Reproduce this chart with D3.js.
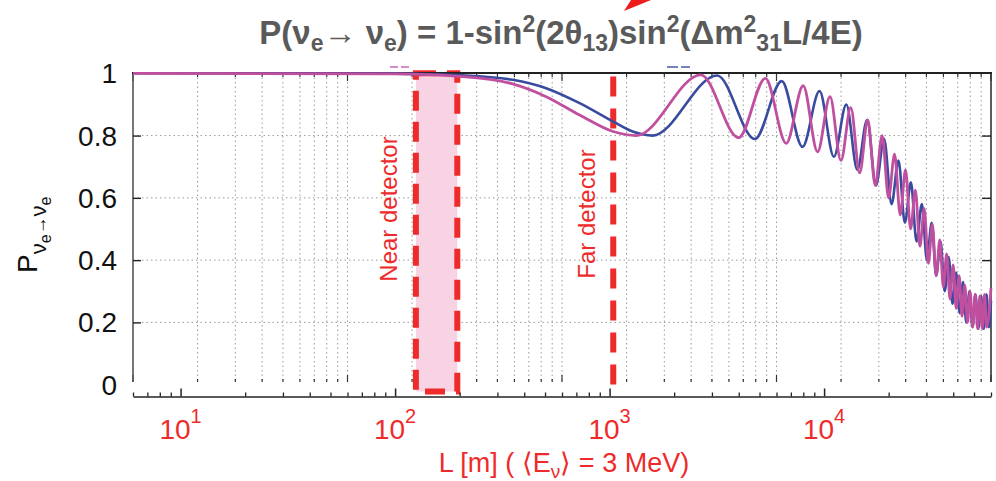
<!DOCTYPE html>
<html>
<head>
<meta charset="utf-8">
<script src="https://cdnjs.cloudflare.com/ajax/libs/d3/7.8.5/d3.min.js"></script>
<style>
body{margin:0;background:#fff}
svg{display:block}
text{font-family:"Liberation Sans",Arial,Helvetica,sans-serif}
</style>
</head>
<body>
<svg id="chart"></svg>
<script>
// values (L in metres, survival probability)
let blueL=[6,100,150,200,353,506,725,1039,1290,1587,3174,4761,6348,7935,9522,11109,12696,14283,15870,17457,19044,20631,22218,23805,25392,26979,28566,30153,31740,33327,34914,36501,38088,39675,41262,42849,44436,46023,47610,49197,50784,52371,53958,55545,57132,58719,60000]
let blueP=[1,0.999,0.997,0.994,0.979,0.952,0.904,0.845,0.812,0.800,0.993,0.789,0.975,0.764,0.943,0.732,0.90,0.69,0.85,0.64,0.79,0.58,0.72,0.52,0.65,0.46,0.58,0.40,0.52,0.35,0.46,0.30,0.41,0.26,0.36,0.23,0.33,0.20,0.30,0.185,0.29,0.18,0.285,0.18,0.29,0.185,0.27]
let magL=[6,100,200,353,506,725,1039,1332,2664,3996,5328,6660,7992,9324,10656,11988,13320,14652,15984,17316,18648,19980,21312,22644,23976,25308,26640,27972,29304,30636,31968,33300,34632,35964,37296,38628,39960,41292,42624,43956,45288,46620,47952,49284,50616,51948,53280,54612,55944,57276,60000]
let magP=[1,0.998,0.99,0.966,0.925,0.866,0.813,0.800,0.995,0.793,0.984,0.775,0.96,0.748,0.925,0.72,0.89,0.68,0.85,0.64,0.80,0.60,0.74,0.545,0.69,0.50,0.625,0.445,0.565,0.39,0.515,0.35,0.465,0.315,0.42,0.275,0.385,0.245,0.35,0.22,0.32,0.20,0.30,0.185,0.29,0.18,0.285,0.18,0.29,0.185,0.31]

let nearRange=[125,195]
let farL=1040

let xTicks=[10,100,1000,10000]
let xTickExp=['1','2','3','4']
let yTicks=[0,0.2,0.4,0.6,0.8,1]
let yTickLabels=['0','0.2','0.4','0.6','0.8','1']

let width=996
let height=481
let svg=d3.select('#chart').attr('width',width).attr('height',height)
let red='#ee2b2a'
let xScale,yScale

let generateScales=()=>{
  xScale=d3.scaleLog().domain([6,60000]).range([133,991])
  yScale=d3.scaleLinear().domain([0,1]).range([384.7,73.3])
}

let drawGrid=()=>{
  // the plot's own grid sits on L/6
  let gridVals=d3.scaleLog().domain([1,1e4]).ticks().map(v=>v*6)
  let g=svg.append('g')
  g.selectAll('line.vg').data(gridVals.slice(1,-1)).enter().append('line')
    .attr('x1',d=>xScale(d)).attr('x2',d=>xScale(d))
    .attr('y1',73).attr('y2',382)
    .attr('stroke','#9a9a9a').attr('stroke-width',1).attr('stroke-dasharray','1.5,3')
  g.selectAll('line.hg').data([0.2,0.4,0.6,0.8]).enter().append('line')
    .attr('x1',133).attr('x2',991)
    .attr('y1',d=>yScale(d)).attr('y2',d=>yScale(d))
    .attr('stroke','#9a9a9a').attr('stroke-width',1).attr('stroke-dasharray','1.5,3')
  // little ticks on the top frame and at the bottom of the grid
  let isMajor=v=>Math.abs(Math.log10(v/6)%1)<1e-6
  g.selectAll('line.tt').data(gridVals).enter().append('line')
    .attr('x1',d=>xScale(d)).attr('x2',d=>xScale(d))
    .attr('y1',73).attr('y2',d=>isMajor(d)?81:77)
    .attr('stroke','#333').attr('stroke-width',1.2)
  g.selectAll('line.bt').data(gridVals).enter().append('line')
    .attr('x1',d=>xScale(d)).attr('x2',d=>xScale(d))
    .attr('y1',382).attr('y2',d=>isMajor(d)?375:379)
    .attr('stroke','#333').attr('stroke-width',1.2)
}

let drawFrame=()=>{
  svg.append('line').attr('x1',133).attr('x2',133).attr('y1',73).attr('y2',382)
    .attr('stroke','#555').attr('stroke-width',1.6)
  svg.append('line').attr('x1',991).attr('x2',991).attr('y1',73).attr('y2',382)
    .attr('stroke','#333').attr('stroke-width',1.6)
  svg.append('line').attr('x1',132).attr('x2',992).attr('y1',73).attr('y2',73)
    .attr('stroke','#222').attr('stroke-width',1.8)
  let yAxisL=d3.axisRight(yScale).tickValues([0.2,0.4,0.6,0.8]).tickSize(8).tickFormat('').tickSizeOuter(0)
  let gl=svg.append('g').attr('transform','translate(133,0)').call(yAxisL)
  gl.select('.domain').remove()
  gl.selectAll('line').attr('stroke','#222').attr('stroke-width',1.4)
  let yAxisR=d3.axisLeft(yScale).tickValues([0.2,0.4,0.6,0.8]).tickSize(9).tickFormat('').tickSizeOuter(0)
  let gr=svg.append('g').attr('transform','translate(991,0)').call(yAxisR)
  gr.select('.domain').remove()
  gr.selectAll('line').attr('stroke','#222').attr('stroke-width',1.4)

  svg.append('g').selectAll('text').data(yTicks).enter().append('text')
    .attr('x',117).attr('y',d=>yScale(d)+10)
    .attr('text-anchor','end').attr('font-size',28).attr('fill','#111')
    .text((d,i)=>yTickLabels[i])
}

let drawXAxis=()=>{
  let minor=xScale.ticks().filter(v=>xTicks.indexOf(v)<0)
  let axMinor=d3.axisTop(xScale).tickValues(minor).tickSize(4).tickFormat('').tickSizeOuter(0)
  let g1=svg.append('g').attr('transform','translate(0,396.5)').call(axMinor)
  g1.select('.domain').attr('stroke','#222').attr('stroke-width',1.6)
  g1.selectAll('line').attr('stroke','#222').attr('stroke-width',1.3)
  let axMajor=d3.axisTop(xScale).tickValues(xTicks).tickSize(8).tickFormat('').tickSizeOuter(0)
  let g2=svg.append('g').attr('transform','translate(0,396.5)').call(axMajor)
  g2.select('.domain').remove()
  g2.selectAll('line').attr('stroke','#222').attr('stroke-width',1.5)

  let lab=svg.append('g').selectAll('text').data(xTicks).enter().append('text')
    .attr('x',d=>xScale(d)).attr('y',438.5)
    .attr('text-anchor','middle').attr('font-size',28).attr('fill',red)
  lab.append('tspan').text('10')
  lab.append('tspan').attr('dy',-16).attr('font-size',20).text((d,i)=>xTickExp[i])

  let t=svg.append('text').attr('x',564).attr('y',472).attr('text-anchor','middle')
    .attr('font-size',27).attr('fill',red)
  t.append('tspan').text('L [m] ( \u27e8E')
  t.append('tspan').attr('dy',6).attr('font-size',19).text('\u03bd')
  t.append('tspan').attr('dy',-6).text('\u27e9 = 3 MeV)')
}

let drawDetectors=()=>{
  let x0=xScale(nearRange[0]),x1=xScale(nearRange[1])
  svg.append('rect').attr('x',x0).attr('y',yScale(1)).attr('width',x1-x0)
    .attr('height',yScale(-0.022)-yScale(1))
    .attr('fill','#f8d3e3').attr('stroke',red).attr('stroke-width',6)
    .attr('stroke-dasharray','20,11')
  svg.append('line').attr('x1',xScale(farL)).attr('x2',xScale(farL))
    .attr('y1',yScale(0.99)).attr('y2',yScale(-0.018))
    .attr('stroke',red).attr('stroke-width',6).attr('stroke-dasharray','20,12')
}

let drawCurves=()=>{
  let line=d3.line().x(d=>xScale(d[0])).y(d=>yScale(d[1])).curve(d3.curveMonotoneX)
  svg.append('path').datum(blueL.map((v,i)=>[v,blueP[i]]))
    .attr('d',line).attr('fill','none').attr('stroke','#3a4b9f').attr('stroke-width',2.6)
  svg.append('path').datum(magL.map((v,i)=>[v,magP[i]]))
    .attr('d',line).attr('fill','none').attr('stroke','#c0509f').attr('stroke-width',2.8)
}

let drawLabels=()=>{
  svg.append('text').attr('transform','translate(397,209) rotate(-90)')
    .attr('text-anchor','middle').attr('font-size',24).attr('fill',red).text('Near detector')
  svg.append('text').attr('transform','translate(595,214) rotate(-90)')
    .attr('text-anchor','middle').attr('font-size',24).attr('fill',red).text('Far detector')

  // y axis title
  let yl=svg.append('text').attr('transform','translate(37,273) rotate(-90)')
    .attr('font-size',28).attr('fill','#111')
  yl.append('tspan').text('P')
  yl.append('tspan').attr('dy',9).attr('font-size',22).text('\u03bd')
  yl.append('tspan').attr('dy',5).attr('font-size',16).text('e')
  yl.append('tspan').attr('dy',-5).attr('font-size',18).text('\u2192')
  yl.append('tspan').attr('font-size',22).text('\u03bd')
  yl.append('tspan').attr('dy',5).attr('font-size',16).text('e')

  // title
  let t=svg.append('text').attr('x',561).attr('y',44).attr('text-anchor','middle')
    .attr('font-size',33).attr('font-weight','bold').attr('fill','#5a5a5a')
  let parts=[['P(\u03bd',0,33],['e',7,23],['\u2192 \u03bd',-7,33],['e',7,23],[') = 1-sin',-7,33],['2',-12,23],
    ['(2\u03b8',12,33],['13',7,23],[')sin',-7,33],['2',-12,23],['(\u0394m',12,33],['2',-12,23],['31',19,23],['L/4E)',-7,33]]
  parts.forEach(p=>t.append('tspan').attr('dy',p[1]).attr('font-size',p[2]).text(p[0]))

  // legend remnants and arrow tip
  svg.append('line').attr('x1',390).attr('x2',410).attr('y1',67).attr('y2',67)
    .attr('stroke','#c868b0').attr('stroke-width',1.6).attr('stroke-dasharray','8,3')
  svg.append('line').attr('x1',667).attr('x2',690).attr('y1',67).attr('y2',67)
    .attr('stroke','#4a5aa8').attr('stroke-width',1.6).attr('stroke-dasharray','11,3')
  svg.append('polygon').attr('points','624,11 631,0 651,0').attr('fill','#ee1c1c')
}

generateScales()
drawGrid()
drawDetectors()
drawFrame()
drawXAxis()
drawCurves()
drawLabels()
</script>
</body>
</html>
